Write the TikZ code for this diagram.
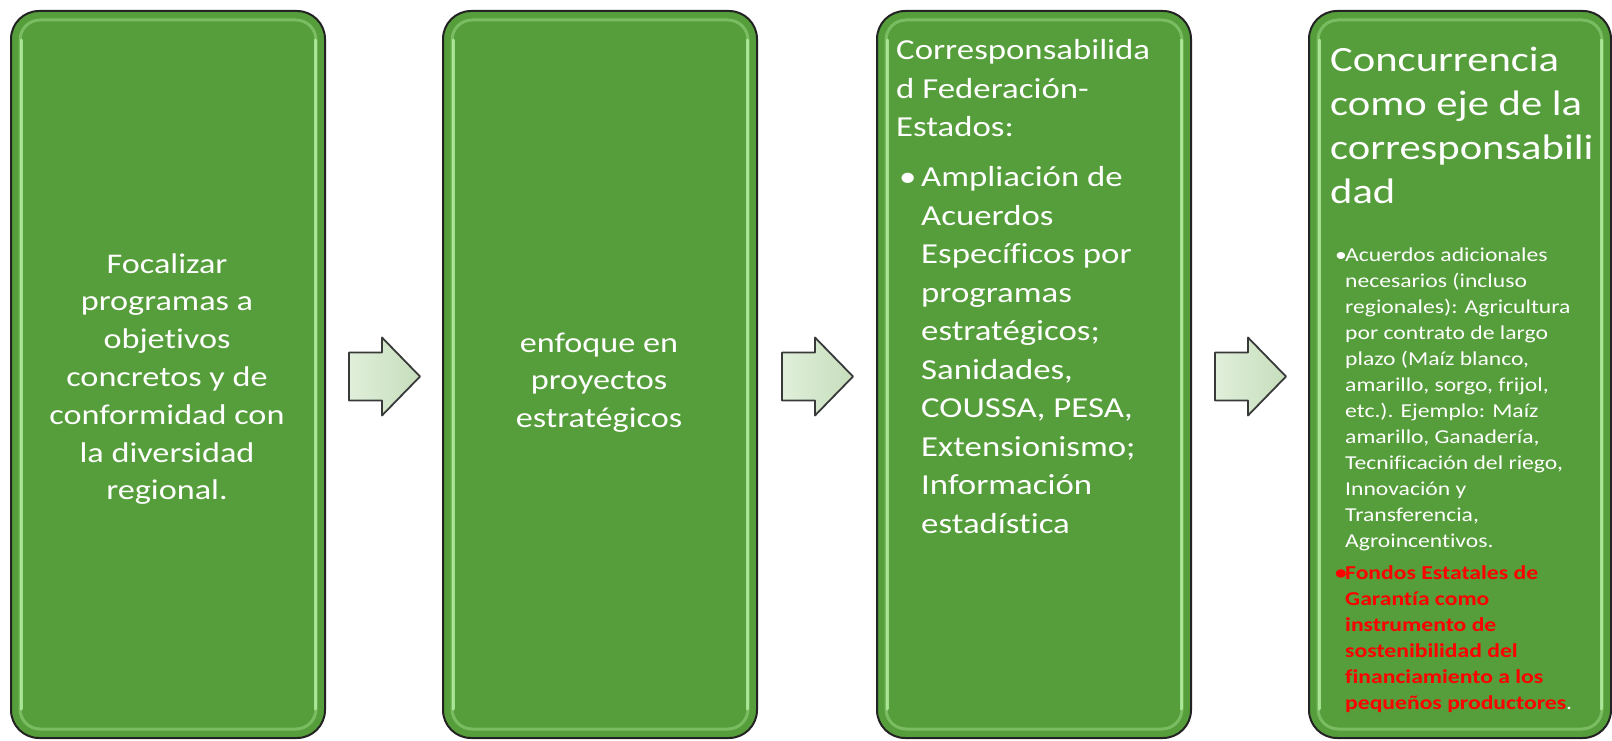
\documentclass[tikz,border=0pt]{standalone}
\usepackage{fontspec}
\setmainfont{Carlito}[FakeStretch=1.2, Ligatures=NoCommon]
\usetikzlibrary{calc}

\definecolor{panelgreen}{RGB}{85,158,59}
\definecolor{glowgreen}{RGB}{190,245,170}
\definecolor{arrowlight}{RGB}{224,239,218}
\definecolor{arrowdark}{RGB}{198,222,188}
\definecolor{edgegray}{RGB}{35,35,35}
\definecolor{fondored}{RGB}{255,0,0}

\tikzset{
  panel/.style={draw=edgegray, line width=2pt, fill=panelgreen, rounded corners=28pt,
    anchor=north west, minimum height=727pt, inner sep=0pt},
  panelglow/.style={draw=glowgreen, line width=3pt, rounded corners=20pt, opacity=0.35},
  sideglow/.style={draw=glowgreen, line width=3pt, line cap=round, opacity=0.75},
  paneltext/.style={text=white, inner sep=0pt, anchor=base west},
  blockarrow/.pic={
    \draw[edgegray!90, line width=1.8pt, line join=round, left color=arrowlight, right color=arrowdark]
      (-35,-24) -- (-2,-24) -- (-2,-39) -- (36,0) -- (-2,39) -- (-2,24) -- (-35,24) -- cycle;
  },
}

\begin{document}
\begin{tikzpicture}[x=1pt, y=-1pt]
    \useasboundingbox (0,0) rectangle (1612,741);

    % paneles
    \node[panel, minimum width=314pt] (focal) at (10,10) {};
    \node[panel, minimum width=314pt] (enfoque) at (442,10) {};
    \node[panel, minimum width=314pt] (corresp) at (876,10) {};
    \node[panel, minimum width=302pt] (concur) at (1308,10) {};

    % brillo interior
    \foreach \p in {focal,enfoque,corresp,concur} {
      \draw[panelglow] ([shift={(10,10)}]\p.north west) rectangle ([shift={(-10,-10)}]\p.south east);
      \draw[sideglow] ([shift={(11,30)}]\p.north west) -- ([shift={(11,-30)}]\p.south west);
      \draw[sideglow] ([shift={(-11,30)}]\p.north east) -- ([shift={(-11,-30)}]\p.south east);
    }

    % flechas
    \pic at ($(focal.east)!0.5!(enfoque.west)+(0,2)$) {blockarrow};
    \pic at ($(enfoque.east)!0.5!(corresp.west)+(0,2)$) {blockarrow};
    \pic at ($(corresp.east)!0.5!(concur.west)+(0,2)$) {blockarrow};

    % textos
    \node[paneltext, anchor=base] (focaltxt) at (167,273) {\parbox[t]{300pt}{\centering
      \fontsize{28.5}{37.8}\selectfont
      Focalizar\\programas a\\objetivos\\concretos y de\\conformidad con\\la diversidad\\regional.}};

    \node[paneltext, anchor=base] (enfoquetxt) at (599,352) {\parbox[t]{300pt}{\centering
      \fontsize{28.5}{37.8}\selectfont
      enfoque en\\proyectos\\estratégicos}};

    \node[paneltext] (correspxt) at (896,60) {\parbox[t]{290pt}{%
      \fontsize{29}{38.5}\selectfont
      Corresponsabilida\newline d Federación-\newline Estados:\par
      \vspace{11.5pt}%
      \hangindent=25pt\hangafter=1\noindent\makebox[25pt][l]{\hspace{3pt}•}Ampliación de\newline
      Acuerdos\newline Específicos por\newline programas\newline estratégicos;\newline
      Sanidades,\newline COUSSA, PESA,\newline Extensionismo;\newline Información\newline
      estadística\par}};

    \node[paneltext] (concurtxt) at (1330,72) {\parbox[t]{280pt}{%
      \fontsize{35.5}{44}\selectfont
      Concurrencia\newline como eje de la\newline corresponsabili\newline dad\par
      \vspace{32pt}%
      \fontsize{19.7}{26}\selectfont
      \hangindent=15pt\hangafter=1\noindent\makebox[15pt][l]{\hspace{5pt}•}Acuerdos adicionales\newline
      necesarios (incluso\newline regionales): Agricultura\newline por contrato de largo\newline
      plazo (Maíz blanco,\newline amarillo, sorgo, frijol,\newline etc.). Ejemplo: Maíz\newline
      amarillo, Ganadería,\newline Tecnificación del riego,\newline Innovación y\newline
      Transferencia,\newline Agroincentivos.\par
      \vspace{6pt}%
      \hangindent=15pt\hangafter=1\noindent{\bfseries\color{fondored}\makebox[15pt][l]{\hspace{5pt}•}Fondos Estatales de\newline
      Garantía como\newline instrumento de\newline sostenibilidad del\newline
      financiamiento a los\newline pequeños productores}.\par}};
\end{tikzpicture}
\end{document}
